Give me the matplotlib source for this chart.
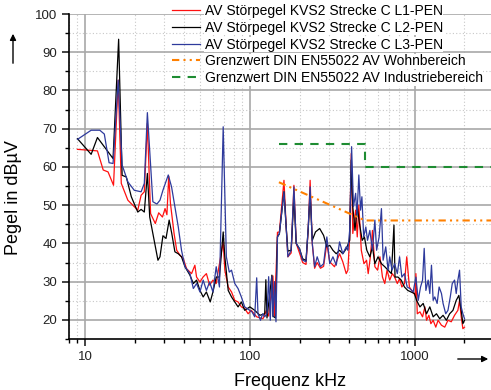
import matplotlib
matplotlib.use('Agg')
import matplotlib.pyplot as plt
from matplotlib.ticker import FixedLocator, MultipleLocator, LogLocator, NullFormatter

plt.rcParams['font.family'] = ['Liberation Sans', 'DejaVu Sans']

# measured AV interference level, phase L1-PEN (kHz, dBuV)
l1_freq = [9.0, 11.9, 12.9, 13.8, 14.9, 15.9, 16.6, 18.2, 20.9, 21.9, 22.9, 23.9, 25.0, 26.7, 28.0,
           29.5, 30.6, 31.4, 32.2, 33.0, 34.7, 36.0, 37.7, 39.5, 41.3, 44.3, 46.4, 47.5, 49.8, 52.0,
           54.5, 57.0, 59.7, 62.5, 65.4, 68.9, 70.5, 73.9, 77.4, 81.0, 84.8, 88.8, 93.0, 97.6, 102,
           110, 120, 126, 130, 138, 141, 147, 151, 161, 166, 170, 178, 185, 191, 200,
           209, 219, 226, 232, 239, 247, 256, 268, 280, 293, 305, 326, 350, 366, 384,
           393, 403, 412, 421, 438, 448, 458, 474, 492, 510, 522, 538, 554, 573, 595,
           615, 637, 658, 679, 705, 731, 755, 784, 809, 835, 866, 894, 928, 972, 1008,
           1016, 1036, 1075, 1115, 1152, 1179, 1218, 1252, 1293, 1341, 1385, 1452, 1520, 1590, 1665,
           1743, 1826, 1869, 1913, 1958, 2004]
l1_level = [64.6, 64.2, 59.2, 58.7, 55.2, 82.7, 55.7, 51.3, 48.7, 52.6, 53.5, 71.4, 47.8, 45.2, 48.0,
            46.9, 49.1, 47.5, 57.6, 50.4, 42.6, 38.2, 36.9, 36.0, 33.4, 32.1, 34.3, 31.2, 29.9, 31.2,
            32.1, 29.1, 30.4, 29.5, 34.7, 40.4, 33.0, 28.6, 27.3, 25.1, 24.7, 23.4, 23.0, 21.6, 22.5,
            20.8, 20.3, 22.5, 21.0, 31.5, 21.0, 42.9, 43.0, 56.5, 44.5, 36.5, 37.5, 55.2, 40.0, 37.5,
            35.0, 34.5, 44.0, 56.5, 40.0, 33.5, 35.0, 33.5, 34.0, 40.0, 35.2, 33.9, 37.3, 35.2, 32.1,
            33.0, 41.7, 63.5, 42.6, 48.7, 41.7, 50.0, 38.2, 34.7, 35.6, 32.1, 36.5, 43.4, 33.9, 33.0,
            36.5, 31.2, 29.5, 33.0, 30.4, 32.1, 31.2, 29.5, 30.8, 28.6, 29.5, 36.5, 28.6, 27.3, 26.4,
            32.1, 21.6, 22.1, 20.8, 23.4, 19.9, 21.2, 19.0, 19.9, 18.1, 19.9, 18.6, 18.1, 19.9, 19.5,
            21.2, 22.5, 25.1, 20.8, 17.7, 18.1]

# phase L2-PEN
l2_freq = [9.0, 10.9, 11.9, 14.8, 16.0, 16.8, 17.8, 19.1, 20.9, 21.9, 22.9, 23.9, 24.7, 27.7, 28.5,
           29.7, 31.0, 32.4, 33.6, 35.1, 36.8, 38.5, 40.4, 43.3, 45.4, 47.5, 49.8, 52.1, 54.5, 57.5,
           59.7, 62.5, 65.4, 68.9, 70.5, 73.9, 77.4, 81.0, 84.8, 88.8, 93.0, 100, 107, 115, 123,
           125, 127, 136, 138, 143, 147, 151, 161, 166, 170, 178, 185, 191, 200, 209,
           219, 226, 232, 239, 250, 265, 280, 293, 305, 319, 334, 350, 366, 384, 403,
           412, 421, 434, 448, 462, 480, 495, 512, 534, 554, 573, 599, 628, 658, 689,
           722, 748, 759, 791, 828, 866, 907, 950, 995, 1026, 1075, 1125, 1179, 1234, 1293,
           1354, 1417, 1485, 1555, 1628, 1705, 1784, 1851, 1913, 1958, 2004]
l2_level = [67.4, 63.3, 67.7, 62.2, 93.4, 57.8, 57.4, 52.2, 48.2, 48.9, 48.2, 58.3, 46.9, 35.6, 36.5,
            42.0, 41.3, 46.1, 42.6, 37.8, 37.3, 36.5, 33.9, 31.7, 29.5, 30.4, 27.7, 26.0, 27.3, 24.7,
            27.3, 31.2, 31.2, 43.0, 36.5, 27.7, 26.0, 24.7, 23.4, 24.7, 22.5, 23.4, 22.5, 21.2, 21.6,
            30.5, 20.5, 31.7, 21.0, 20.5, 41.7, 42.5, 53.5, 44.3, 38.0, 38.2, 52.2, 40.0, 38.6, 36.0,
            35.5, 44.0, 53.1, 40.8, 43.0, 43.9, 42.1, 39.1, 39.5, 38.2, 37.3, 38.2, 37.3, 38.6, 40.8,
            61.8, 49.6, 43.4, 49.6, 45.2, 40.8, 41.7, 38.2, 36.5, 39.1, 34.7, 36.5, 34.7, 33.9, 33.0,
            32.1, 44.8, 31.2, 31.2, 30.4, 28.6, 27.7, 27.3, 26.9, 25.1, 23.4, 24.3, 21.6, 23.4, 20.8,
            21.6, 20.3, 21.2, 19.9, 21.6, 22.5, 25.1, 26.4, 22.5, 19.0, 19.9]

# phase L3-PEN
l3_freq = [9.0, 10.9, 12.3, 13.1, 14.0, 14.8, 15.9, 16.8, 18.2, 19.9, 21.9, 22.9, 23.9, 25.8, 27.3,
           28.5, 29.7, 32.0, 33.5, 35.1, 36.8, 38.5, 40.4, 43.3, 45.4, 47.5, 49.8, 52.1, 54.5, 57.0,
           59.7, 62.5, 65.4, 68.9, 72.0, 75.0, 77.4, 81.0, 84.8, 88.8, 93.0, 100, 103, 107, 110,
           112, 116, 119.6, 123, 127, 130, 133, 136, 138, 141, 144, 147, 151, 161, 166,
           170, 178, 185, 191, 200, 209, 219, 226, 232, 239, 247, 256, 268, 280, 293,
           305, 319, 334, 350, 366, 384, 393, 403, 414, 425, 438, 446, 458, 469, 478,
           490, 505, 517, 534, 554, 573, 587, 608, 628, 643, 667, 689, 705, 728, 755,
           784, 809, 835, 866, 899, 933, 978, 1016, 1050, 1084, 1115, 1141, 1168, 1206, 1234,
           1263, 1293, 1323, 1367, 1405, 1452, 1485, 1541, 1590, 1642, 1688, 1743, 1784, 1826, 1869,
           1913, 1958, 2004]
l3_level = [67.2, 69.6, 69.6, 68.6, 61.1, 60.9, 82.7, 60.5, 56.1, 53.9, 53.5, 55.7, 74.2, 50.9, 50.3,
            51.3, 53.9, 57.9, 54.8, 49.6, 44.3, 38.2, 33.9, 32.1, 28.2, 29.5, 27.3, 30.4, 27.7, 29.9,
            27.3, 33.9, 28.6, 70.5, 36.5, 32.5, 33.0, 29.5, 28.2, 26.0, 23.4, 22.5, 22.1, 20.8, 31.0,
            21.6, 19.9, 21.6, 20.8, 21.6, 31.3, 19.9, 31.3, 20.8, 30.0, 19.5, 41.7, 42.6, 53.5, 44.3,
            36.5, 38.2, 54.8, 40.0, 38.6, 35.6, 35.2, 44.3, 54.8, 40.0, 33.9, 36.5, 33.9, 34.7, 41.7,
            34.7, 36.5, 34.3, 40.4, 37.3, 39.1, 38.2, 43.4, 65.3, 49.6, 53.1, 47.0, 57.9, 48.7, 52.2,
            41.7, 44.3, 40.8, 43.4, 38.2, 46.1, 38.2, 41.7, 49.1, 35.6, 39.1, 33.0, 36.5, 33.0, 34.7,
            32.1, 36.5, 31.2, 32.1, 28.6, 28.2, 27.3, 31.2, 25.1, 28.6, 30.4, 38.7, 27.7, 30.4, 26.9,
            34.3, 25.1, 26.0, 24.3, 28.6, 26.9, 24.3, 21.6, 22.5, 26.0, 29.5, 30.4, 26.9, 30.4, 33.0,
            23.4, 21.6, 20.3]

# EN55022 average limits
wohn_freq = [150, 500, 30000]
wohn_level = [56, 46, 46]
ind_freq = [150, 500, 500, 30000]
ind_level = [66, 66, 60, 60]

labels = ['AV Störpegel KVS2 Strecke C L1-PEN',
          'AV Störpegel KVS2 Strecke C L2-PEN',
          'AV Störpegel KVS2 Strecke C L3-PEN',
          'Grenzwert DIN EN55022 AV Wohnbereich',
          'Grenzwert DIN EN55022 AV Industriebereich']

W, H = 491, 390
fig = plt.figure(figsize=(W/100., H/100.), dpi=100)
ax = fig.add_axes([69./W, 1-339./H, 422./W, 325./H])

ax.plot(l1_freq, l1_level, color='#FF1010', lw=0.9, label=labels[0])
ax.plot(l2_freq, l2_level, color='#000000', lw=0.9, label=labels[1])
ax.plot(l3_freq, l3_level, color='#2E3A9C', lw=0.9, label=labels[2])
ax.plot(wohn_freq, wohn_level, color='#FF8000', lw=1.5, ls=(0, (3.5, 2, 1, 2, 1, 2)), label=labels[3])
ax.plot(ind_freq, ind_level, color='#1E8C32', lw=1.5, ls=(0, (4, 3.5)), label=labels[4])

ax.set_xscale('log')
ax.set_xlim(8, 2900)
ax.set_ylim(15, 100)
ax.xaxis.set_major_locator(FixedLocator([10, 100, 1000]))
ax.xaxis.set_major_formatter(plt.FuncFormatter(lambda v, p: '%d' % v))
ax.xaxis.set_minor_locator(LogLocator(base=10, subs=[2, 3, 4, 5, 6, 7, 8, 9]))
ax.xaxis.set_minor_formatter(NullFormatter())
ax.yaxis.set_major_locator(MultipleLocator(10))
ax.yaxis.set_minor_locator(MultipleLocator(5))
ax.set_yticks([20, 30, 40, 50, 60, 70, 80, 90, 100])

ax.grid(which='major', color='#A8A8A8', lw=1.2, ls='-')
ax.grid(which='minor', color='#C8C8C8', lw=0.8, ls=(0, (1, 2)))
ax.set_axisbelow(True)
for s in ['top', 'right']:
    ax.spines[s].set_visible(False)
ax.spines['left'].set_linewidth(1.2)
ax.spines['bottom'].set_linewidth(1.2)
ax.tick_params(which='major', direction='out', length=5, width=1.2, labelsize=9.5, colors='#222222')
ax.tick_params(which='minor', direction='out', length=3, width=1.0)

leg = ax.legend(loc='upper left', bbox_to_anchor=(172./W, 1-4./H), bbox_transform=fig.transFigure,
                frameon=False, fontsize=10, handlelength=2.0, handletextpad=0.35,
                labelspacing=0.2, borderpad=0, borderaxespad=0)
for t in leg.get_texts():
    t.set_bbox(dict(facecolor='white', edgecolor='none', pad=0.5))

fig.text(14./W, 1-198./H, 'Pegel in dBµV', rotation=90, fontsize=13, ha='center', va='center')
fig.text(290./W, 1-381./H, 'Frequenz kHz', fontsize=13, ha='center', va='center')
ax.annotate('', xy=(13./W, 1-31./H), xytext=(13./W, 1-66./H), xycoords='figure fraction',
            textcoords='figure fraction', arrowprops=dict(arrowstyle='-|>', color='k', lw=1, mutation_scale=9))
ax.annotate('', xy=(491./W, 1-359./H), xytext=(455./W, 1-359./H), xycoords='figure fraction',
            textcoords='figure fraction', arrowprops=dict(arrowstyle='-|>', color='k', lw=1, mutation_scale=9))

fig.savefig('out.png', dpi=100)
